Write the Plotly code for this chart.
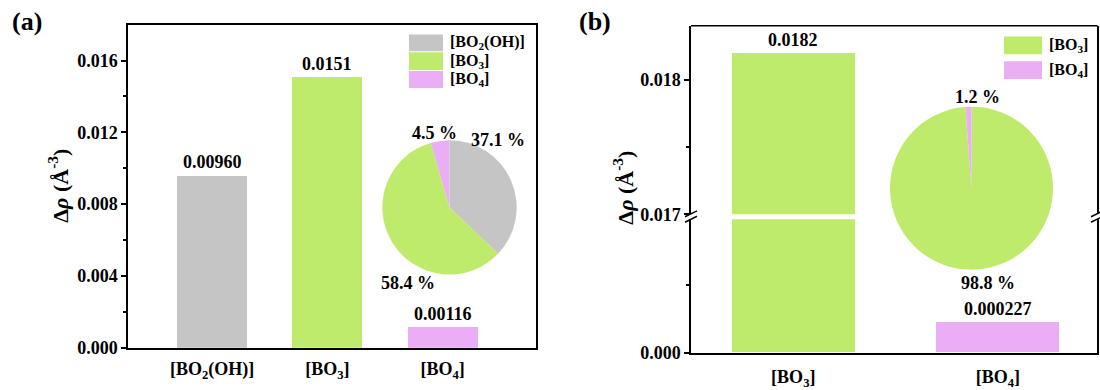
import plotly.graph_objects as go

# ---- data ----
cats_a = ["[BO<sub>2</sub>(OH)]", "[BO<sub>3</sub>]", "[BO<sub>4</sub>]"]
vals_a = [0.00960, 0.0151, 0.00116]
pie_a = [37.1, 58.4, 4.5]

cats_b = ["[BO<sub>3</sub>]", "[BO<sub>4</sub>]"]
vals_b = [0.0182, 0.000227]
pie_b = [98.8, 1.2]

colors = {"[BO<sub>2</sub>(OH)]": "#C5C5C5", "[BO<sub>3</sub>]": "#BEEB6B", "[BO<sub>4</sub>]": "#EAADF6"}

W, H = 1100, 390
# the page body keeps its default 8px margins, so the captured page is 406px tall
# and is fitted back to 390px; positions below are given in final-image pixels
K = 390 / 406
FONT = "Liberation Serif"


def px(x):
    return x / W


def py(y):
    return 1 - (y / K) / H


def fmt(v):
    return f"{v:#.3g}"


fig = go.Figure()

# panel (a) bars
fig.add_trace(go.Bar(x=cats_a, y=vals_a, width=0.606,
                     marker=dict(color=[colors[c] for c in cats_a], line_width=0),
                     xaxis="x", yaxis="y", showlegend=False))

# panel (b) bars, drawn on both segments of the broken axis
for ya in ("y2", "y3"):
    fig.add_trace(go.Bar(x=cats_b, y=vals_b, width=0.6,
                         marker=dict(color=[colors[c] for c in cats_b], line_width=0),
                         xaxis="x2", yaxis=ya, showlegend=False))

# inset pies
fig.add_trace(go.Pie(values=pie_a, labels=cats_a, sort=False, direction="clockwise", rotation=0,
                     marker=dict(colors=[colors[c] for c in cats_a], line_width=0),
                     textinfo="none", showlegend=False,
                     domain=dict(x=[px(381.5), px(517.5)], y=[py(278), py(142)])))
fig.add_trace(go.Pie(values=pie_b, labels=cats_b, sort=False, direction="clockwise", rotation=0,
                     marker=dict(colors=[colors[c] for c in cats_b], line_width=0),
                     textinfo="none", showlegend=False,
                     domain=dict(x=[px(889), px(1054)], y=[py(273), py(108)])))

tickfont = dict(family=FONT, size=18, color="black", weight="bold")
axline = dict(showline=True, linecolor="black", linewidth=1.5, showgrid=False, zeroline=False)
major = dict(ticks="outside", ticklen=5, tickwidth=1.5, tickcolor="black")
minor = dict(ticks="outside", ticklen=3, tickwidth=1.5, tickcolor="black")

scale_b = 0.001 / 136.3  # data units per pixel on panel (b)

fig.update_layout(
    width=W, height=H, margin=dict(l=0, r=0, t=0, b=0),
    paper_bgcolor="white", plot_bgcolor="white",
    bargap=0,
    xaxis=dict(domain=[px(128), px(536)], anchor="y", range=[-0.73, 2.81], mirror=True,
               ticks="", ticklabelstandoff=4, tickfont=tickfont, **axline),
    yaxis=dict(domain=[py(352), py(25)], anchor="x", range=[0, 0.018], mirror=True,
               tickvals=[0, 0.004, 0.008, 0.012, 0.016], tickformat=".3f",
               minor=dict(tickvals=[0.002, 0.006, 0.010, 0.014], **minor),
               tickfont=tickfont, **major, **axline),
    xaxis2=dict(domain=[px(691), px(1097)], anchor="y2", range=[-0.5, 1.485],
                ticks="", ticklabelstandoff=7, tickfont=tickfont, **axline),
    yaxis2=dict(domain=[py(357), py(222)], anchor="x2", range=[0, 135 * scale_b], mirror=True,
                tickvals=[0], tickformat=".3f",
                minor=dict(tickvals=[0.0005], **minor),
                tickfont=tickfont, **major, **axline),
    yaxis3=dict(domain=[py(217), py(26)], anchor="x2", range=[0.017, 0.017 + 191 * scale_b],
                mirror=True, tickvals=[0.017, 0.018], tickformat=".3f",
                minor=dict(tickvals=[0.0175], **minor),
                tickfont=tickfont, **major, **axline),
)

ann = []
txt = dict(family=FONT, size=18, color="black", weight="bold")


def label(x, y, text, font, **kw):
    d = dict(x=px(x), y=py(y), xref="paper", yref="paper", text=text, showarrow=False,
             xanchor="center", yanchor="middle", font=font)
    d.update(kw)
    ann.append(d)


# value labels above bars
for c, v in zip(cats_a, vals_a):
    ann.append(dict(x=c, y=v, xref="x", yref="y", text=fmt(v), showarrow=False,
                    xanchor="center", yanchor="bottom", yshift=1, font=txt))
ann.append(dict(x=cats_b[0], y=vals_b[0], xref="x2", yref="y3", text=fmt(vals_b[0]),
                showarrow=False, xanchor="center", yanchor="bottom", yshift=1, font=txt))
ann.append(dict(x=cats_b[1], y=vals_b[1], xref="x2", yref="y2", text=fmt(vals_b[1]),
                showarrow=False, xanchor="center", yanchor="bottom", yshift=1, font=txt))

# pie percentage labels
for v, (x, y) in zip(pie_a, [(498, 142), (408, 287), (434, 135)]):
    label(x, y, f"{v} %", txt)
for v, (x, y) in zip(pie_b, [(988, 287), (977, 98)]):
    label(x, y, f"{v} %", txt)

# axis titles and panel tags
ytitle = "Δ<i>ρ</i> (Å<sup>-3</sup>)"
for x, y in [(58, 188), (623, 190)]:
    label(x, y, ytitle, dict(family=FONT, size=22, color="black", weight="bold"), textangle=-90)
for t, x in [("(a)", 27), ("(b)", 595)]:
    label(x, 22, t, dict(family=FONT, size=26, color="black", weight="bold"))

shapes = []
# legends
leg_font = dict(family=FONT, size=16, color="black", weight="bold")
for c, y0, y1 in [(cats_a[0], 35, 52), (cats_a[1], 53, 71), (cats_a[2], 72, 89)]:
    shapes.append(dict(type="rect", xref="paper", yref="paper", x0=px(409), x1=px(443),
                       y0=py(y1), y1=py(y0), fillcolor=colors[c], line_width=0))
    label(448, (y0 + y1) / 2, c, leg_font, xanchor="left")
for c, y0, y1 in [(cats_b[0], 37, 55), (cats_b[1], 62, 80)]:
    shapes.append(dict(type="rect", xref="paper", yref="paper", x0=px(1004), x1=px(1042),
                       y0=py(y1), y1=py(y0), fillcolor=colors[c], line_width=0))
    label(1047, (y0 + y1) / 2, c, leg_font, xanchor="left")

# top border of panel (b)
shapes.append(dict(type="line", xref="paper", yref="paper", x0=px(691), x1=px(1097.5),
                   y0=py(26), y1=py(26), line=dict(color="black", width=1.5)))
# axis-break marks on both sides of panel (b)
for xb in (691, 1097):
    shapes.append(dict(type="rect", xref="paper", yref="paper", x0=px(xb - 1), x1=px(xb + 1),
                       y0=py(222), y1=py(217), fillcolor="white", line_width=0))
    for yb in (216.5, 222):
        shapes.append(dict(type="line", xref="paper", yref="paper", x0=px(xb - 6), x1=px(xb + 6),
                           y0=py(yb + 3), y1=py(yb - 3), line=dict(color="black", width=1.5)))

fig.update_layout(annotations=ann, shapes=shapes)
fig.write_html("out.html")
